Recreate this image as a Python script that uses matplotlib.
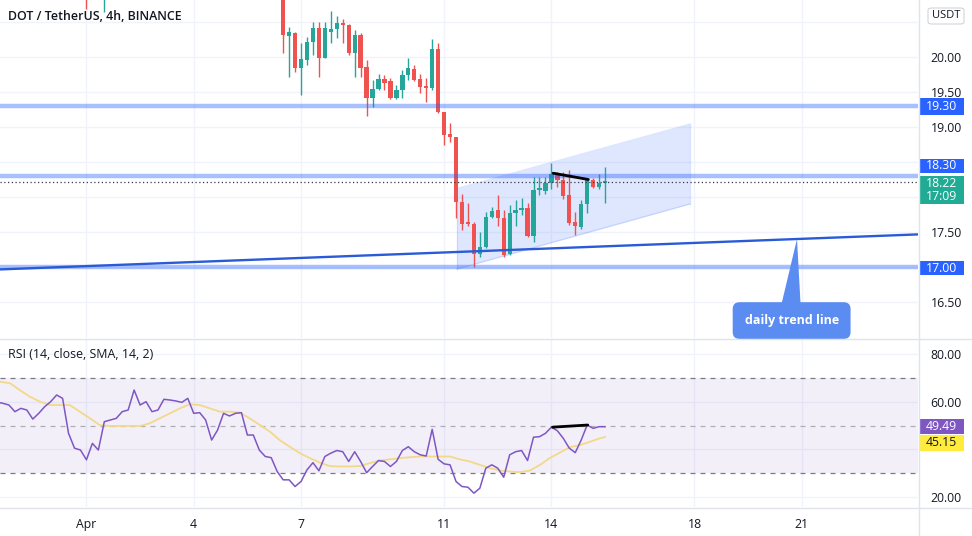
import numpy as np
import matplotlib.pyplot as plt
from matplotlib.patches import Rectangle, Polygon, FancyBboxPatch
from matplotlib.lines import Line2D
import matplotlib.transforms as mtransforms

plt.rcParams['font.family'] = ['Open Sans', 'DejaVu Sans']

# ---- datos (eje x en velas de 4h, vela 0 = 6 Apr 12:00) ----
bar = [-33, -30] + list(range(0, 55))
o = [20.95, 20.95,
     20.98, 20.30, 20.34, 19.84, 19.96, 20.22, 20.41, 19.98, 20.35, 20.40,
     20.49, 20.46, 20.06, 20.31, 19.86, 19.42, 19.54, 19.68, 19.65, 19.41,
     19.53, 19.74, 19.83, 19.68, 19.58, 19.55, 20.11, 19.22, 18.90, 18.86,
     17.93, 17.65, 17.62, 17.19, 17.29, 17.72, 17.81, 17.70, 17.19, 17.77,
     17.82, 17.84, 17.44, 18.10, 18.09, 18.20, 18.31, 18.25, 18.03, 17.65,
     17.57, 17.90, 18.24, 18.14, 18.20]
h = [21.05, 21.05,
     21.02, 20.43, 20.36, 20.20, 20.29, 20.50, 20.50, 20.50, 20.65, 20.58,
     20.54, 20.47, 20.39, 20.34, 19.96, 19.67, 19.76, 19.74, 19.70, 19.60,
     19.81, 19.98, 19.89, 19.76, 19.70, 20.25, 20.20, 19.22, 19.05, 18.86,
     18.05, 17.91, 17.65, 17.50, 17.79, 17.86, 18.03, 17.81, 17.89, 17.96,
     17.99, 17.91, 18.29, 18.28, 18.28, 18.48, 18.36, 18.36, 18.39, 17.79,
     17.96, 18.27, 18.27, 18.33, 18.43]
l = [20.68, 20.64,
     20.05, 19.72, 19.79, 19.46, 19.89, 20.03, 19.72, 19.98, 20.20, 20.27,
     20.20, 20.03, 19.72, 19.72, 19.15, 19.29, 19.53, 19.53, 19.40, 19.40,
     19.41, 19.67, 19.65, 19.48, 19.36, 19.53, 19.20, 18.74, 18.79, 17.70,
     17.53, 17.58, 17.00, 17.15, 17.27, 17.70, 17.58, 17.15, 17.17, 17.58,
     17.74, 17.43, 17.36, 18.03, 18.05, 18.12, 18.15, 17.97, 17.60, 17.46,
     17.55, 17.77, 18.13, 18.12, 17.91]
c = [20.90, 21.00,
     20.31, 20.36, 19.84, 19.97, 20.22, 20.41, 19.98, 20.41, 20.40, 20.48,
     20.45, 20.06, 20.31, 19.84, 19.42, 19.54, 19.68, 19.63, 19.41, 19.53,
     19.74, 19.84, 19.67, 19.57, 19.55, 20.11, 19.22, 18.89, 18.86, 17.93,
     17.62, 17.62, 17.19, 17.29, 17.72, 17.80, 17.70, 17.17, 17.77, 17.82,
     17.84, 17.44, 18.10, 18.12, 18.20, 18.33, 18.25, 18.01, 17.63, 17.59,
     17.90, 18.24, 18.14, 18.20, 18.22]

rsi_start = -48
rsi = [59.8, 59.3, 58.6, 55.8, 57.2, 56.5, 52.7, 55.1, 57.9, 60.0, 62.8, 61.4,
       46.7, 40.5, 39.7, 35.6, 42.5, 39.7, 51.6, 52.3, 53.0, 55.8, 56.5, 64.9,
       58.6, 60.0, 55.8, 56.5, 61.0, 60.7, 60.3, 59.7, 61.4, 55.1, 55.4, 52.3,
       43.9, 48.1, 55.1, 54.0, 55.1, 55.4, 46.0, 46.0, 39.7, 37.0, 36.5, 30.7,
       27.2, 27.2, 24.4, 26.5, 31.4, 34.4, 31.0, 37.0, 38.4, 39.5, 39.0, 34.9,
       39.0, 34.9, 30.2, 32.8, 35.3, 34.9, 32.8, 34.9, 39.5, 41.1, 39.0, 37.7,
       37.2, 48.4, 35.8, 33.9, 33.5, 26.5, 24.4, 24.1, 21.6, 23.7, 32.1, 33.5,
       32.1, 28.3, 37.7, 39.0, 39.5, 35.3, 45.1, 45.3, 46.7, 49.3, 47.8, 44.6,
       40.5, 38.6, 43.9, 50.2, 48.8, 49.5, 49.49]

ma_x = [-47.5, -45.8, -44.2, -42.5, -40.8, -39.1, -37.5, -35.8, -34.1, -32.4,
        -30.8, -29.1, -27.4, -25.7, -24.0, -22.4, -20.7, -19.0, -17.3, -15.7,
        -14.0, -12.3, -10.6, -8.9, -7.3, -5.6, -3.9, -2.2, -0.6, 1.1, 2.8, 4.5,
        6.2, 7.8, 9.5, 11.2, 12.9, 14.5, 16.2, 17.9, 19.6, 21.3, 22.9, 24.6,
        26.3, 28.0, 29.6, 31.3, 33.0, 34.7, 36.4, 38.0, 39.7, 41.4, 43.1, 44.7,
        46.4, 48.1, 49.8, 51.5, 53.1, 54.0]
ma_v = [68.4, 67.7, 64.9, 62.1, 60.0, 58.6, 58.6, 58.6, 55.8, 53.0,
        50.2, 49.8, 49.8, 49.8, 49.8, 50.9, 53.0, 55.1, 57.2, 58.9,
        58.6, 57.2, 55.8, 55.8, 55.4, 53.0, 50.2, 47.4, 43.9, 41.1, 38.4, 36.3,
        34.4, 33.0, 32.8, 32.8, 33.0, 34.2, 35.3, 35.8, 36.3, 36.7, 37.0, 37.0,
        37.0, 37.0, 35.8, 34.9, 33.5, 32.1, 31.1, 30.7, 30.4, 31.1, 33.5, 36.3,
        38.6, 40.9, 41.8, 43.2, 44.6, 45.15]

niveles = [19.30, 18.30, 17.00]
precio_actual = 18.22
tiempo_restante = '17:09'

# canal y lineas dibujadas
canal_x = [29.1, 68.2]
canal_sup = [18.12, 19.04]
canal_inf = [16.97, 17.90]
trend_a = (0.0, 17.12)
trend_b = (86.2, 17.40)
linea_precio = ([45.3, 51.2], [18.34, 18.25])
linea_rsi = ([45.2, 51.1], [49.3, 50.2])

tick_dias = [1, 4, 7, 11, 14, 18, 21]
tick_labels = ['Apr', '4', '7', '11', '14', '18', '21']
tick_bars = [(d - 6.5) * 6 for d in tick_dias]

# ticks de precio (los tapados por las etiquetas quedan sin texto)
precio_ticks = [16.5, 17.0, 17.5, 18.0, 18.5, 19.0, 19.5, 20.0, 20.5]
precio_tapados = [17.0, 18.0, 18.5, 20.5]
rsi_ticks = [20, 40, 60, 80]
rsi_tapados = [40]

# ---- figura ----
fig = plt.figure(figsize=(9.72, 5.36), dpi=100)
W, H = 972, 536
ax = fig.add_axes([0, (H - 338) / H, 918 / W, 338 / H])
ax2 = fig.add_axes([0, (H - 507) / H, 918 / W, 168 / H])

grid_c = '#f0f3fa'
txt_c = '#131722'
azul = '#2962ff'

for a in (ax, ax2):
    a.set_xlim(-47.5, 106.5)
    a.set_xticks(tick_bars)
    a.yaxis.tick_right()
    a.tick_params(axis='both', length=0, labelsize=8.8, labelcolor=txt_c)
    a.tick_params(axis='y', pad=9)
    a.grid(True, color=grid_c, lw=1, zorder=0)
    a.set_axisbelow(True)
    for s in a.spines.values():
        s.set_visible(False)

ax.set_ylim(15.986, 20.814)
ax.set_yticks(precio_ticks)
ax.set_yticklabels(['' if v in precio_tapados else '{:.2f}'.format(v) for v in precio_ticks])
ax.tick_params(axis='x', labelbottom=False)

ax2.set_ylim(15.8, 86.3)
ax2.set_yticks(rsi_ticks)
ax2.set_yticklabels(['' if v in rsi_tapados else '{:.2f}'.format(v) for v in rsi_ticks])
ax2.set_xticklabels(tick_labels)
ax2.tick_params(axis='x', pad=8)

# canal
ax.fill_between(canal_x, canal_inf, canal_sup, color=azul, alpha=0.15, lw=0, zorder=1)
ax.plot(canal_x, canal_sup, color=azul, alpha=0.15, lw=1, zorder=1)
ax.plot(canal_x, canal_inf, color=azul, alpha=0.15, lw=1, zorder=1)
ax.plot([canal_x[0]] * 2, [canal_inf[0], canal_sup[0]], color=azul, alpha=0.15, lw=1, zorder=1)
ax.plot([canal_x[1]] * 2, [canal_inf[1], canal_sup[1]], color=azul, alpha=0.15, lw=1, zorder=1)

# velas
bar = np.array(bar)
o, h, l, c = map(np.array, (o, h, l, c))
colores = np.where(c >= o, '#26a69a', '#ef5350')
ax.vlines(bar, l, h, colors=colores, lw=1, zorder=3)
cuerpo = np.maximum(np.abs(c - o), 0.025)
ax.bar(bar, cuerpo, bottom=np.minimum(o, c), width=0.72, color=colores, zorder=3)

# lineas horizontales y tendencia
for nv in niveles:
    ax.axhline(nv, color=azul, alpha=0.4, lw=3.2, zorder=4)
ax.axhline(precio_actual, color='#363a45', lw=0.9, ls=(0, (1, 2)), zorder=4)
ax.axline(trend_a, trend_b, color='#2a5bd7', lw=1.7, zorder=4)
ax.plot(*linea_precio, color='black', lw=2, zorder=5, solid_capstyle='round')

# callout
ax.add_patch(Polygon([(83.6, 16.47), (86.8, 16.47), (trend_b[0], trend_b[1])],
                     closed=True, color='#5a8cf2', lw=0, zorder=6))
ax.text(85.3, 16.235, 'daily trend line', color='white', fontsize=9, fontweight='bold',
        ha='center', va='center', zorder=7,
        bbox=dict(boxstyle='round,pad=0.95,rounding_size=0.55', fc='#5a8cf2', ec='none'))

# RSI
ax2.axhspan(30, 70, color='#7e57c2', alpha=0.09, lw=0, zorder=1)
for lv, al in ((70, 1.0), (50, 0.55), (30, 1.0)):
    ax2.axhline(lv, color='#787b86', lw=0.9, ls=(0, (4, 4)), alpha=al, zorder=2)
ax2.plot(ma_x, ma_v, color='#f2d98a', lw=1.3, zorder=3)
ax2.plot(np.arange(rsi_start, rsi_start + len(rsi)), rsi, color='#7e57c2', lw=1.1, zorder=4)
ax2.plot(*linea_rsi, color='black', lw=2, zorder=5, solid_capstyle='round')

# etiquetas del eje de precios
def etiqueta(a, y, alto, texto, fc, tc, ppx):
    tr = mtransforms.blended_transform_factory(a.transAxes, a.transData)
    x0 = 919 / 918
    ancho = 45 / 918
    dy = alto / 2 / ppx
    a.add_patch(Rectangle((x0, y - dy), ancho, 2 * dy, transform=tr, fc=fc, ec='none',
                          clip_on=False, zorder=10))
    a.text(x0 + ancho / 2, y, texto, transform=tr, ha='center', va='center', color=tc,
           fontsize=8.8, clip_on=False, zorder=11, linespacing=1.05)

ppx_main = 70.0
ppx_rsi = 2.383
etiqueta(ax, 19.293, 17, '19.30', azul, 'white', ppx_main)
etiqueta(ax, 18.443, 14, '18.30', azul, 'white', ppx_main)
etiqueta(ax, 18.100, 28, '{:.2f}\n{}'.format(precio_actual, tiempo_restante), '#22ab94', 'white', ppx_main)
etiqueta(ax, 16.985, 14, '17.00', azul, 'white', ppx_main)
etiqueta(ax2, 49.6, 15, '49.49', '#7e57c2', 'white', ppx_rsi)
etiqueta(ax2, 42.7, 16, '45.15', '#ffeb3b', txt_c, ppx_rsi)

# caja USDT
fig.patches.append(FancyBboxPatch((928 / W, (H - 24) / H), 36 / W, 16 / H,
                                  boxstyle='round,pad=0,rounding_size=0.004',
                                  transform=fig.transFigure, fc='white', ec='#d1d4dc',
                                  lw=0.8, zorder=10))
fig.text(946 / W, (H - 16) / H, 'USDT', ha='center', va='center', fontsize=8, color=txt_c, zorder=11)

# separadores
sep = '#e0e3eb'
fig.add_artist(Line2D([918.5 / W] * 2, [0, 1], color=sep, lw=1))
fig.add_artist(Line2D([0, 1], [(H - 338.5) / H] * 2, color=sep, lw=1))
fig.add_artist(Line2D([0, 1], [(H - 507.5) / H] * 2, color=sep, lw=1))

# titulos
fig.text(8 / W, (H - 17) / H, 'DOT / TetherUS, 4h, BINANCE', ha='left', va='center',
         fontsize=8.9, fontweight='semibold', color=txt_c)
fig.text(8 / W, (H - 354) / H, 'RSI (14, close, SMA, 14, 2)', ha='left', va='center',
         fontsize=8.9, color=txt_c)

fig.savefig('out.png', dpi=100, facecolor='white')
